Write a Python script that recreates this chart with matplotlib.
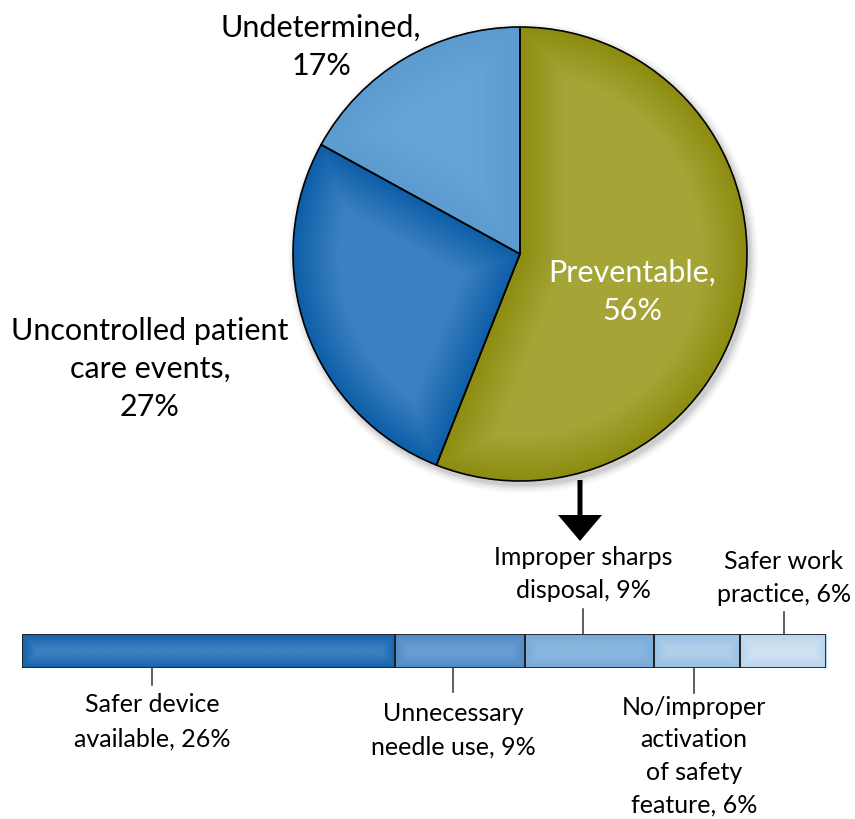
import numpy as np
import matplotlib
matplotlib.use("Agg")
import matplotlib.pyplot as plt
from matplotlib.colors import LinearSegmentedColormap
from matplotlib.patches import Circle

# ---------------- data ----------------
pie_labels = ["Preventable,\n56%", "Uncontrolled patient\ncare events,\n27%", "Undetermined,\n17%"]
pie_values = [56, 27, 17]
pie_center_colors = ["#a5a437", "#3b80c0", "#67a4d6"]
pie_edge_colors = ["#8c8c10", "#0d5ea8", "#5b9bd0"]

bar_labels = ["Safer device\navailable, 26%", "Unnecessary\nneedle use, 9%",
              "Improper sharps\ndisposal, 9%", "No/improper\nactivation\nof safety\nfeature, 6%",
              "Safer work\npractice, 6%"]
bar_values = [26, 9, 9, 6, 6]
bar_center_colors = ["#3a7fbe", "#6a9ed3", "#8bb7df", "#b2cfea", "#d0e2f2"]
bar_edge_colors = ["#1462ad", "#4f8ac6", "#77a9d9", "#98bfe3", "#bad5ee"]
bar_label_side = ["below", "below", "above", "below", "above"]

W, H = 855, 819
fig = plt.figure(figsize=(W / 100, H / 100), dpi=100)
fig.patch.set_facecolor("white")

ax = fig.add_axes([0, 0, 1, 1])
ax.set_xlim(0, W)
ax.set_ylim(0, H)
ax.set_aspect("equal")
ax.axis("off")

def Y(y):
    return H - y

FONT = ["Lato", "DejaVu Sans"]

cx, cy, R = 520, Y(254), 227

# soft shadow
for i, a in enumerate(np.linspace(0.05, 0.015, 6)):
    ax.add_patch(Circle((cx + 3, cy - 4), R + 1 + i * 1.5, color="black", alpha=a, lw=0, zorder=0))

wedges, _ = ax.pie(pie_values, center=(cx, cy), radius=R, startangle=90, counterclock=False,
                   colors=pie_center_colors,
                   wedgeprops=dict(edgecolor="black", linewidth=1.2), frame=True)
ax.set_xlim(0, W)
ax.set_ylim(0, H)
ax.axis("off")

# inner-glow gradient for each wedge
n = 2 * R + 2
xs = np.linspace(cx - R - 1, cx + R + 1, n)
ys = np.linspace(cy - R - 1, cy + R + 1, n)
XX, YY = np.meshgrid(xs, ys)
dx, dy = XX - cx, YY - cy
rho = np.hypot(dx, dy)
phi = np.degrees(np.arctan2(dy, dx)) % 360
glow = 45.0
for w, c0, c1 in zip(wedges, pie_center_colors, pie_edge_colors):
    t1, t2 = w.theta1 % 360, w.theta2 % 360
    d1 = (phi - t1) % 360
    d2 = (t2 - phi) % 360
    def ray_dist(d):
        return np.where(d < 90, rho * np.sin(np.radians(np.minimum(d, 90))), rho)
    dist = np.minimum(np.minimum(ray_dist(d1), ray_dist(d2)), R - rho)
    val = np.clip(dist / glow, 0, 1)
    cmap = LinearSegmentedColormap.from_list("g", [c1, c0])
    im = ax.imshow(val, cmap=cmap, vmin=0, vmax=1, origin="lower",
                   extent=[xs[0], xs[-1], ys[0], ys[-1]], zorder=w.get_zorder(), interpolation="bilinear")
    im.set_clip_path(w)
    w.set_facecolor("none")
    w.set_zorder(w.get_zorder() + 0.5)

# pie labels
ax.text(632, Y(292), pie_labels[0], color="white", fontsize=22, ha="center", va="center",
        family=FONT, linespacing=1.45)
ax.text(150, Y(369), pie_labels[1], color="black", fontsize=22, ha="center", va="center",
        family=FONT, linespacing=1.43)
ax.text(321, Y(47), pie_labels[2], color="black", fontsize=22, ha="center", va="center",
        family=FONT, linespacing=1.43)

# arrow
ax.arrow(580, Y(480), 0, -61, width=5, head_width=44, head_length=26,
         length_includes_head=True, color="black", lw=0)

# ---------------- stacked bar ----------------
bx0, bx1, by0, by1 = 22, 826, 634, 668
bax = fig.add_axes([bx0 / W, (H - by1) / H, (bx1 - bx0) / W, (by1 - by0) / H])
total = sum(bar_values)
bax.set_xlim(0, total)
bax.set_ylim(0, 1)
bax.axis("off")
lefts = np.concatenate([[0], np.cumsum(bar_values)[:-1]])
bars = bax.barh([0.5] * len(bar_values), bar_values, left=lefts, height=1,
                color=bar_center_colors, edgecolor="#222222", linewidth=1.3, zorder=3)

sx = (bx1 - bx0) / total
sy = (by1 - by0)
gx = np.linspace(0, total, bx1 - bx0)
gy = np.linspace(0, 1, by1 - by0)
GX, GY = np.meshgrid(gx, gy)
for rect, l, v, c0, c1 in zip(bars, lefts, bar_values, bar_center_colors, bar_edge_colors):
    dist = np.minimum.reduce([(GX - l) * sx, (l + v - GX) * sx, GY * sy, (1 - GY) * sy])
    val = np.clip(dist / 14.0, 0, 1)
    cmap = LinearSegmentedColormap.from_list("b", [c1, c0])
    im = bax.imshow(val, cmap=cmap, vmin=0, vmax=1, origin="lower", aspect="auto",
                    extent=[0, total, 0, 1], zorder=2, interpolation="bilinear")
    im.set_clip_path(rect)
    rect.set_facecolor("none")
bax.set_xlim(0, total)
bax.set_ylim(0, 1)

# bar labels with leader lines (positions in pixels)
label_pos = [(152, 685, 722), (453, 692, 730), (583, 609, 574), (694, 693, 756), (784, 612, 578)]
label_spacing = [1.6, 1.55, 1.55, 1.5, 1.5]
for (lx, ltip, ty), side, txt, ls in zip(label_pos, bar_label_side, bar_labels, label_spacing):
    if side == "below":
        ax.plot([lx, lx], [Y(by1), Y(ltip)], color="#333333", lw=1.1)
    else:
        ax.plot([lx, lx], [Y(by0), Y(ltip)], color="#333333", lw=1.1)
    ax.text(lx, Y(ty), txt, fontsize=18, ha="center", va="center", family=FONT,
            linespacing=ls, color="black")

fig.savefig("out.png", dpi=100, facecolor="white")
